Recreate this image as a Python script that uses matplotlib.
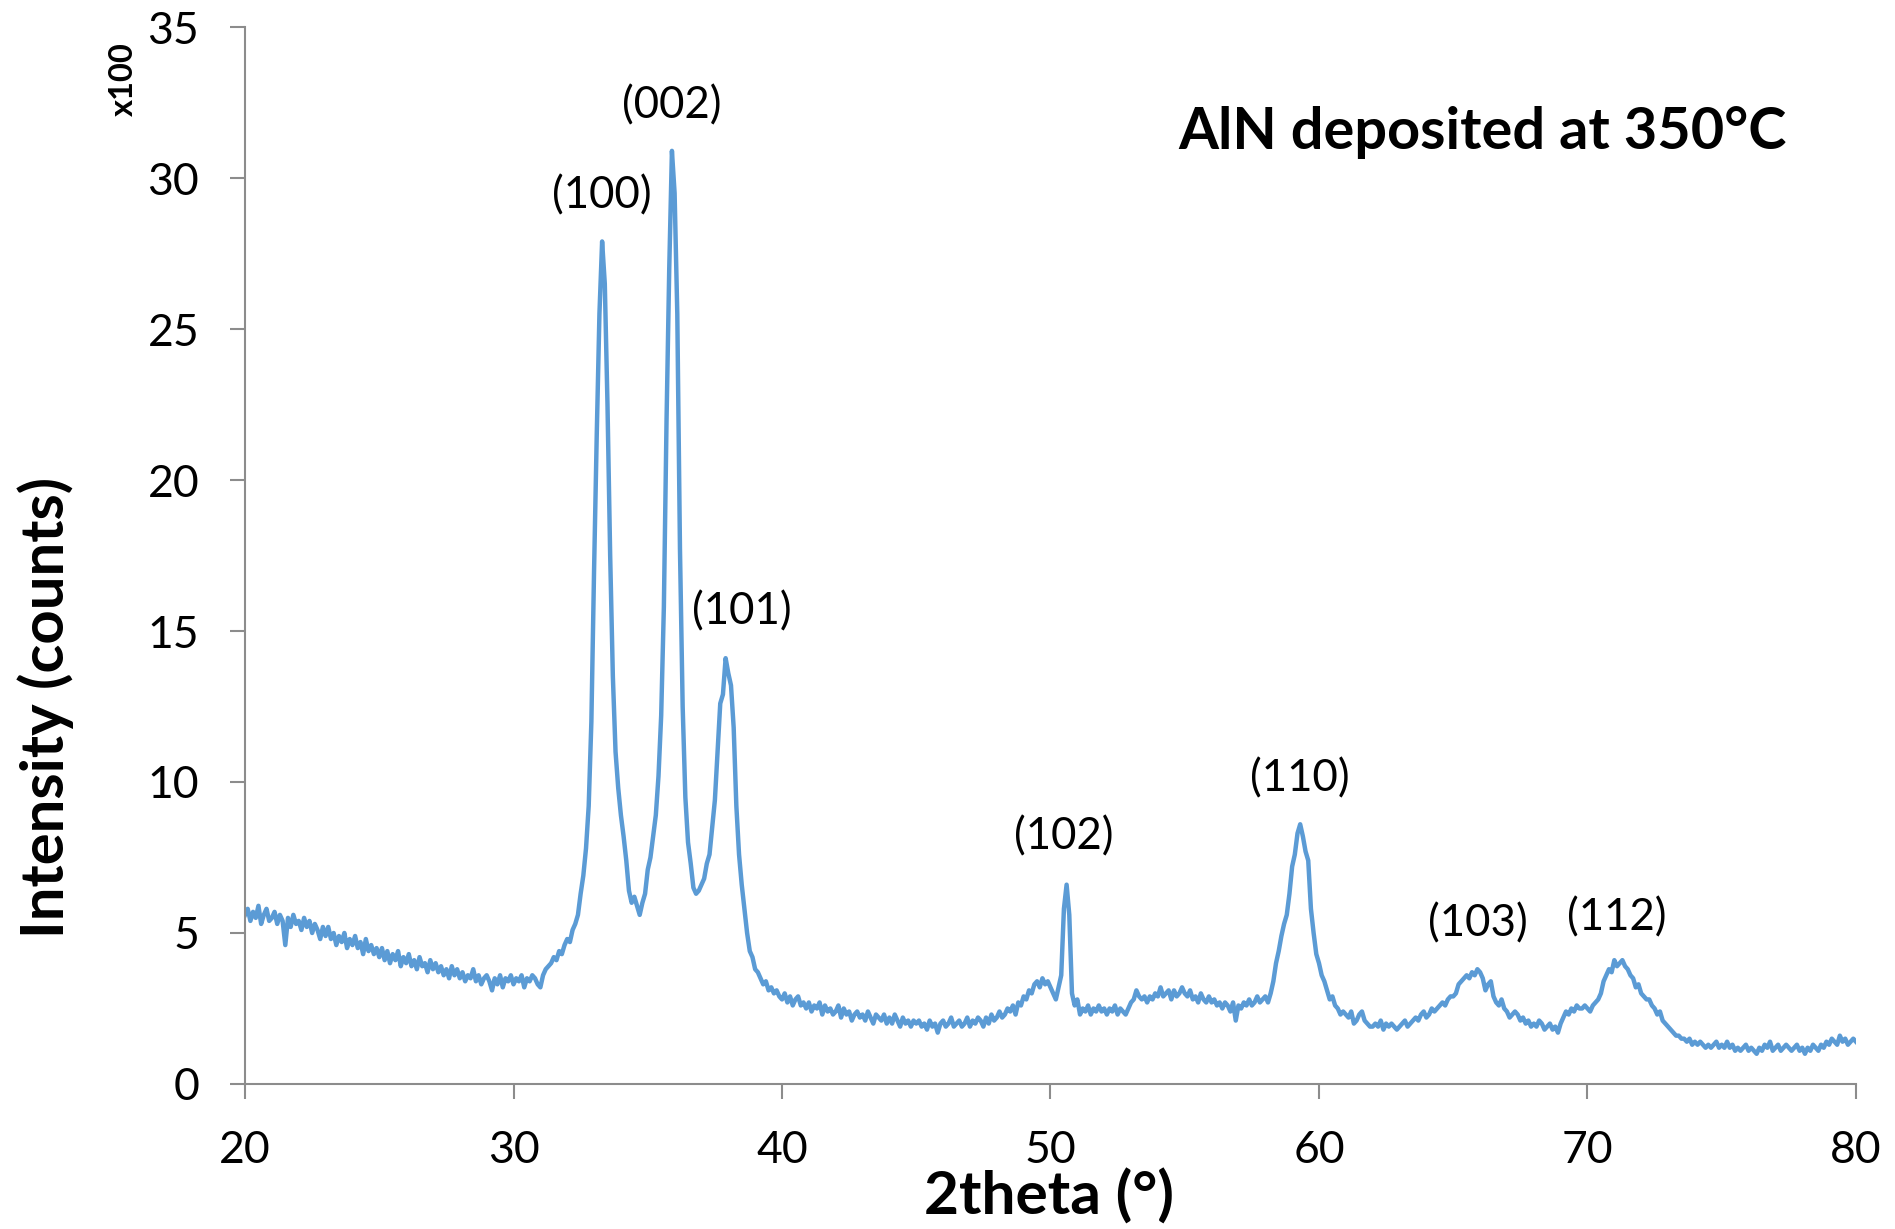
import numpy as np
import matplotlib
matplotlib.use("Agg")
import matplotlib.pyplot as plt

plt.rcParams['font.family'] = ['Lato', 'DejaVu Sans']

# 2theta grid, 0.1 deg steps from 20 to 80
two_theta = np.round(np.arange(20.0, 80.05, 0.1), 1)

# intensity (x100 counts), one row per degree
intensity = [
    5.6, 5.8, 5.4, 5.7, 5.5, 5.9, 5.3, 5.6, 5.8, 5.4,
    5.5, 5.7, 5.3, 5.6, 5.4, 4.6, 5.5, 5.2, 5.6, 5.3,
    5.4, 5.1, 5.5, 5.2, 5.4, 5.0, 5.3, 5.1, 4.8, 5.2,
    4.9, 5.2, 4.8, 5.0, 4.6, 4.9, 4.7, 5.0, 4.5, 4.8,
    4.6, 4.9, 4.5, 4.7, 4.3, 4.8, 4.4, 4.6, 4.3, 4.5,
    4.2, 4.5, 4.1, 4.4, 4.0, 4.3, 4.1, 4.4, 3.9, 4.2,
    4.0, 4.3, 3.9, 4.1, 3.8, 4.2, 3.9, 4.0, 3.7, 4.1,
    3.8, 4.0, 3.7, 3.9, 3.6, 3.8, 3.5, 3.9, 3.6, 3.8,
    3.5, 3.7, 3.4, 3.6, 3.5, 3.8, 3.4, 3.6, 3.3, 3.5,
    3.6, 3.4, 3.1, 3.5, 3.3, 3.6, 3.2, 3.5, 3.4, 3.6,
    3.3, 3.5, 3.4, 3.6, 3.2, 3.5, 3.4, 3.6, 3.5, 3.3,
    3.2, 3.6, 3.8, 3.9, 4.0, 4.2, 4.1, 4.4, 4.3, 4.6,
    4.8, 4.7, 5.1, 5.3, 5.6, 6.3, 6.9, 7.8, 9.2, 12.0,
    17.0, 21.5, 25.5, 27.9, 26.5, 22.5, 17.5, 13.5, 11.0, 9.8,
    8.9, 8.2, 7.4, 6.4, 6.0, 6.2, 5.9, 5.6, 6.0, 6.3,
    7.1, 7.5, 8.2, 8.9, 10.2, 12.2, 15.8, 22.0, 27.0, 30.9,
    29.5, 25.5, 17.7, 12.5, 9.5, 8.0, 7.3, 6.5, 6.3, 6.4,
    6.6, 6.8, 7.3, 7.6, 8.5, 9.4, 11.0, 12.6, 12.9, 14.1,
    13.6, 13.2, 11.8, 9.2, 7.6, 6.6, 5.8, 5.0, 4.4, 4.2,
    3.8, 3.7, 3.5, 3.3, 3.4, 3.1, 3.2, 3.0, 3.1, 2.9,
    2.8, 3.0, 2.7, 2.9, 2.6, 2.8, 2.9, 2.6, 2.7, 2.5,
    2.7, 2.4, 2.6, 2.5, 2.7, 2.3, 2.6, 2.4, 2.5, 2.3,
    2.4, 2.6, 2.2, 2.5, 2.3, 2.4, 2.1, 2.3, 2.4, 2.2,
    2.3, 2.1, 2.4, 2.2, 2.0, 2.3, 2.2, 2.1, 2.3, 2.0,
    2.2, 2.0, 2.3, 2.1, 1.9, 2.2, 2.0, 2.1, 1.9, 2.1,
    2.0, 2.1, 1.9, 2.0, 1.8, 2.1, 1.9, 2.0, 1.7, 2.0,
    2.1, 1.9, 2.0, 2.2, 1.9, 2.0, 2.1, 1.9, 2.0, 2.2,
    1.9, 2.1, 2.0, 2.2, 2.1, 1.9, 2.2, 2.0, 2.3, 2.1,
    2.2, 2.4, 2.2, 2.3, 2.5, 2.4, 2.6, 2.3, 2.7, 2.6,
    2.9, 2.8, 3.1, 3.0, 3.3, 3.4, 3.2, 3.5, 3.3, 3.4,
    3.2, 3.0, 2.8, 3.2, 3.6, 5.8, 6.6, 5.6, 3.0, 2.6,
    2.8, 2.3, 2.5, 2.4, 2.6, 2.3, 2.5, 2.4, 2.6, 2.4,
    2.5, 2.3, 2.5, 2.4, 2.6, 2.3, 2.5, 2.4, 2.3, 2.5,
    2.7, 2.8, 3.1, 2.9, 2.8, 2.9, 2.7, 2.9, 2.8, 3.0,
    2.9, 3.2, 2.9, 3.0, 3.1, 2.8, 3.1, 2.9, 3.0, 3.2,
    3.0, 2.9, 3.1, 2.8, 2.9, 2.7, 3.0, 2.8, 2.7, 2.9,
    2.7, 2.8, 2.6, 2.7, 2.5, 2.7, 2.6, 2.4, 2.7, 2.1,
    2.6, 2.5, 2.7, 2.6, 2.8, 2.6, 2.7, 2.9, 2.7, 2.8,
    2.9, 2.7, 3.0, 3.4, 4.0, 4.4, 4.9, 5.3, 5.6, 6.3,
    7.2, 7.6, 8.3, 8.6, 8.2, 7.7, 7.4, 5.8, 5.0, 4.3,
    4.0, 3.6, 3.4, 3.1, 2.8, 2.9, 2.6, 2.5, 2.3, 2.4,
    2.3, 2.2, 2.4, 2.0, 2.1, 2.3, 2.4, 2.1, 2.0, 1.9,
    1.9, 2.0, 1.9, 2.1, 1.8, 2.0, 1.9, 2.0, 1.9, 1.8,
    1.9, 2.0, 2.1, 1.9, 2.0, 2.1, 2.2, 2.1, 2.3, 2.4,
    2.2, 2.3, 2.5, 2.4, 2.5, 2.6, 2.7, 2.6, 2.8, 2.9,
    2.9, 3.0, 3.3, 3.4, 3.5, 3.6, 3.5, 3.7, 3.6, 3.8,
    3.7, 3.5, 3.1, 3.3, 3.4, 2.9, 2.7, 2.6, 2.8, 2.5,
    2.4, 2.2, 2.3, 2.4, 2.3, 2.1, 2.2, 2.0, 2.1, 1.9,
    2.0, 1.9, 2.1, 2.0, 1.8, 1.9, 2.0, 1.8, 1.9, 1.7,
    2.0, 2.2, 2.4, 2.3, 2.5, 2.4, 2.6, 2.5, 2.5, 2.6,
    2.5, 2.4, 2.6, 2.7, 2.8, 3.0, 3.4, 3.6, 3.8, 3.7,
    4.1, 3.9, 4.0, 4.1, 3.9, 3.8, 3.6, 3.5, 3.2, 3.3,
    3.0, 2.9, 2.8, 2.8, 2.6, 2.5, 2.3, 2.4, 2.1, 2.0,
    1.9, 1.8, 1.7, 1.6, 1.6, 1.5, 1.5, 1.4, 1.5, 1.3,
    1.4, 1.3, 1.4, 1.3, 1.2, 1.3, 1.2, 1.3, 1.4, 1.2,
    1.3, 1.2, 1.4, 1.2, 1.3, 1.1, 1.2, 1.1, 1.2, 1.3,
    1.1, 1.2, 1.1, 1.0, 1.2, 1.1, 1.3, 1.2, 1.4, 1.1,
    1.2, 1.3, 1.1, 1.2, 1.3, 1.2, 1.1, 1.2, 1.3, 1.1,
    1.2, 1.0, 1.2, 1.1, 1.3, 1.2, 1.1, 1.3, 1.2, 1.4,
    1.3, 1.5, 1.4, 1.3, 1.6, 1.4, 1.5, 1.3, 1.4, 1.5,
    1.4,
]

# peak labels and where they sit
peak_names = ["(100)", "(002)", "(101)", "(102)", "(110)", "(103)", "(112)"]
peak_x = [33.3, 35.9, 38.5, 50.5, 59.3, 65.9, 71.1]
peak_y = [29.4, 32.4, 15.65, 8.2, 10.1, 5.3, 5.5]

fig = plt.figure(figsize=(18.95, 12.29), dpi=100)
ax = fig.add_axes([0.1293, 0.118, 0.8501, 0.860])

ax.plot(two_theta, intensity, color="#5B9BD5", linewidth=3.2)

ax.set_xlim(20, 80)
ax.set_ylim(0, 35)
ax.set_xticks(np.arange(20, 81, 10))
ax.set_yticks(np.arange(0, 36, 5))

for side in ["top", "right"]:
    ax.spines[side].set_visible(False)
for side in ["left", "bottom"]:
    ax.spines[side].set_color("#8c8c8c")
    ax.spines[side].set_linewidth(1.5)
ax.tick_params(axis="both", direction="out", length=11, width=1.5,
               color="#8c8c8c", labelsize=32)
ax.tick_params(axis="x", pad=22)
ax.tick_params(axis="y", pad=22)

for name, px, py in zip(peak_names, peak_x, peak_y):
    ax.text(px, py, name, fontsize=31.5, ha="center", va="center")

ax.text(66.1, 31.5, "AlN deposited at 350°C", fontsize=41.5, fontweight="bold",
        ha="center", va="center")

fig.text(0.5536, 0.0265, "2theta (°)", fontsize=43.5, fontweight="bold",
         ha="center", va="center")
fig.text(0.0243, 0.4247, "Intensity (counts)", fontsize=43, fontweight="bold",
         ha="center", va="center", rotation=90)
fig.text(0.0649, 0.9357, "x100", fontsize=23.5, fontweight="bold",
         ha="center", va="center", rotation=90)

fig.savefig("out.png", dpi=100)
